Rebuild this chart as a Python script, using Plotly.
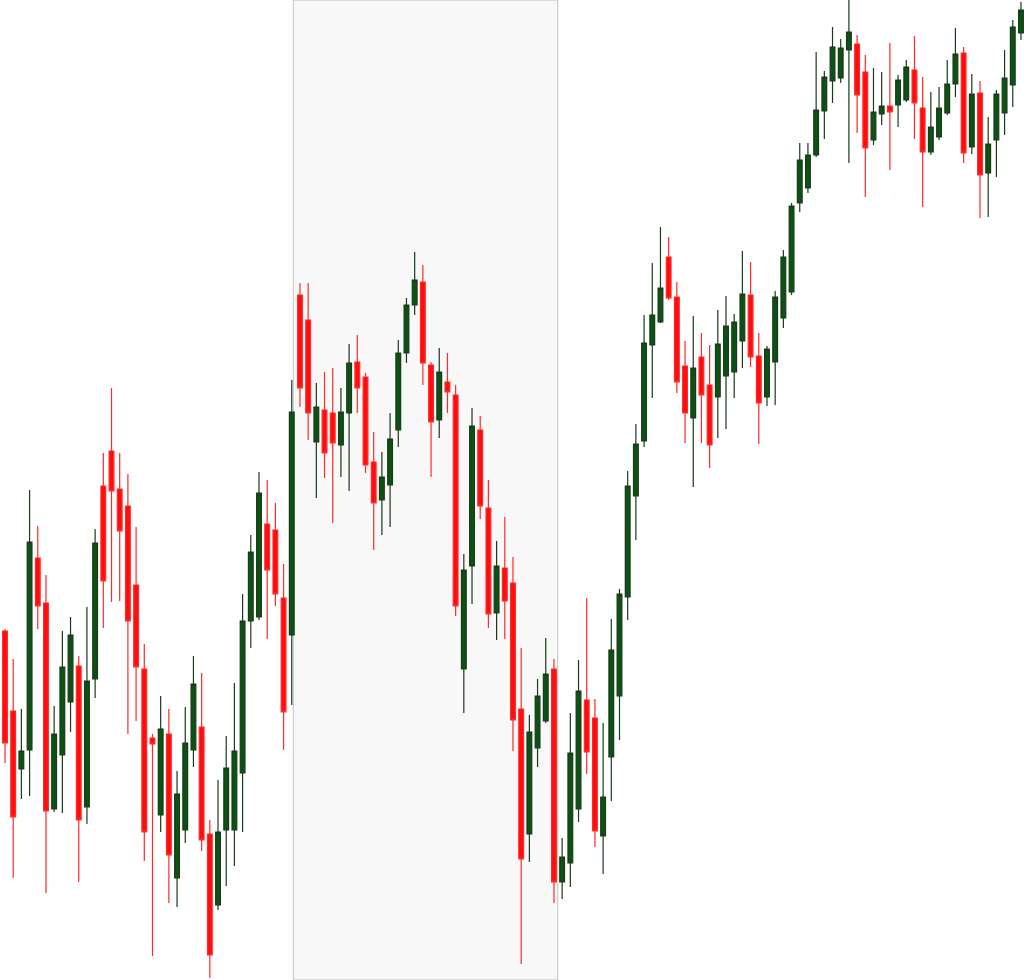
import plotly.graph_objects as go

# Price values (arbitrary points), one entry per candle, left to right
open_ = [349, 269, 211, 230, 422, 377, 171, 225, 278, 314, 173, 301, 494, 529, 491, 474, 395, 311, 242, 165,
         246, 102, 150, 230, 253, 146, 75, 150, 150, 207, 359, 363, 456, 450, 382, 345, 685, 660, 538, 570,
         567, 535, 567, 618, 603, 518, 480, 495, 550, 627, 675, 698, 615, 560, 598, 585, 311, 414, 550, 472,
         367, 412, 397, 271, 146, 232, 259, 311, 98, 117, 171, 280, 262, 144, 223, 284, 383, 484, 539, 635,
         658, 723, 683, 614, 562, 623, 595, 583, 604, 608, 639, 685, 624, 583, 618, 662, 688, 777, 792, 825,
         869, 899, 902, 930, 936, 908, 840, 866, 874, 875, 880, 910, 872, 828, 843, 867, 896, 927, 833, 887,
         807, 840, 867, 895, 947]
high = [351, 321, 271, 490, 454, 405, 274, 349, 363, 324, 373, 451, 527, 592, 527, 506, 453, 336, 246, 284,
        271, 209, 273, 324, 307, 160, 200, 244, 297, 386, 445, 508, 500, 477, 416, 600, 697, 697, 597, 608,
        612, 592, 636, 645, 607, 548, 528, 567, 640, 682, 728, 715, 618, 632, 627, 595, 426, 572, 564, 500,
        439, 463, 423, 332, 265, 301, 342, 321, 142, 267, 320, 382, 281, 257, 361, 391, 509, 556, 665, 717,
        753, 743, 698, 639, 664, 647, 635, 670, 684, 666, 729, 718, 647, 634, 689, 730, 777, 837, 837, 928,
        909, 953, 941, 980, 945, 925, 912, 908, 937, 905, 920, 944, 903, 888, 893, 920, 952, 933, 906, 899,
        863, 890, 930, 960, 978]
low = [217, 102, 181, 184, 351, 87, 168, 167, 248, 98, 156, 282, 352, 378, 379, 246, 259, 119, 24, 148,
       77, 73, 137, 213, 129, 2, 70, 94, 114, 148, 332, 360, 341, 374, 230, 275, 573, 540, 482, 502,
       457, 503, 489, 567, 507, 430, 445, 453, 533, 617, 665, 595, 503, 542, 567, 364, 267, 376, 461, 352,
       340, 341, 229, 16, 118, 213, 257, 77, 81, 93, 158, 206, 133, 106, 179, 240, 360, 440, 533, 582,
       657, 680, 587, 537, 493, 537, 512, 542, 551, 582, 612, 613, 536, 574, 575, 652, 685, 768, 787, 823,
       841, 877, 897, 817, 847, 783, 835, 855, 810, 853, 878, 841, 773, 825, 840, 865, 883, 817, 826, 762,
       763, 803, 845, 873, 940]
close = [237, 163, 229, 438, 374, 169, 246, 313, 345, 160, 299, 437, 399, 489, 449, 359, 313, 148, 236, 251,
         125, 186, 237, 296, 140, 25, 148, 212, 229, 359, 428, 487, 410, 386, 268, 568, 592, 567, 573, 527,
         537, 568, 617, 592, 515, 477, 503, 541, 627, 675, 700, 617, 558, 608, 588, 374, 410, 554, 474, 366,
         414, 379, 260, 121, 248, 284, 306, 98, 123, 227, 289, 228, 149, 183, 330, 386, 494, 536, 637, 665,
         692, 682, 598, 567, 612, 585, 535, 636, 654, 658, 686, 623, 577, 631, 683, 723, 774, 820, 825, 870,
         903, 933, 932, 948, 885, 832, 868, 874, 868, 900, 913, 877, 828, 853, 872, 896, 926, 827, 886, 805,
         836, 886, 902, 953, 970]
bars = list(range(len(open_)))

# Highlighted session (in bar index units)
session_start = 35.2
session_end = 67.45

fig = go.Figure()
fig.add_trace(go.Candlestick(
    x=bars, open=open_, high=high, low=low, close=close,
    increasing=dict(line=dict(color="#1a3a1a", width=1.2), fillcolor="#0b5213"),
    decreasing=dict(line=dict(color="#ff2a2a", width=1.2), fillcolor="#ff0d0d"),
    whiskerwidth=0,
    showlegend=False,
))

fig.add_vrect(x0=session_start, x1=session_end, fillcolor="#f8f8f8", opacity=1,
              layer="below", line=dict(color="#cfcfcf", width=1.3))

fig.update_layout(
    width=1024, height=980,
    margin=dict(l=0, r=0, t=0, b=0),
    paper_bgcolor="white", plot_bgcolor="white",
    boxmode="group", boxgap=0.42, boxgroupgap=0.0,
    xaxis=dict(visible=False, range=[-0.61, 124.37], rangeslider=dict(visible=False)),
    yaxis=dict(visible=False, range=[0, 980]),
)

fig.write_html("out.html", config={"displayModeBar": False},
               post_script="document.body.style.margin='0';")
